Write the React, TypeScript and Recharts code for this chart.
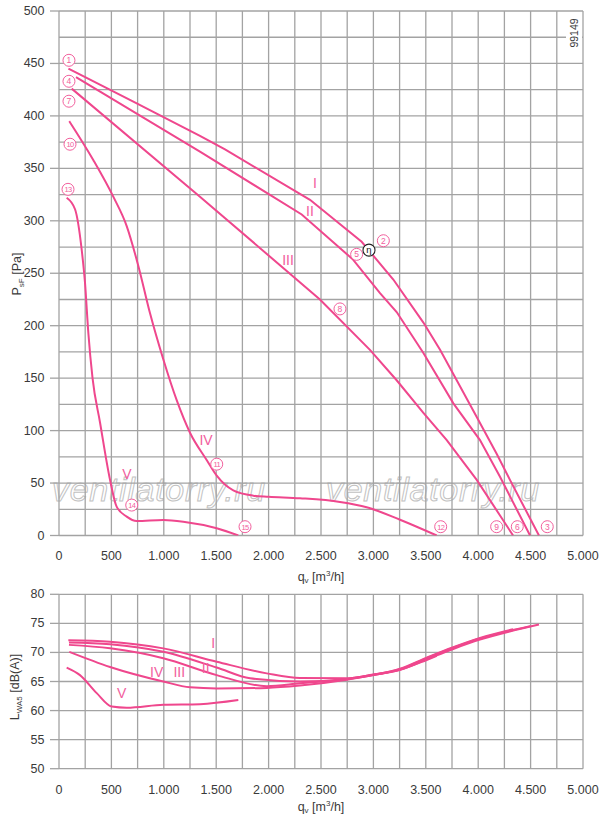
import React from 'react';
import { ComposedChart, Line, Scatter, XAxis, YAxis, CartesianGrid, Label } from 'recharts';

const PINK = '#ef478d';
const LABEL_PINK = '#f2609d';
const GRID = '#a3a3a3';
const TEXT = '#3a3a3a';
const FONT = '"Liberation Sans", Arial, Helvetica, sans-serif';

// ---- axis ticks ----
const flowTicks = [0, 250, 500, 750, 1000, 1250, 1500, 1750, 2000, 2250, 2500, 2750, 3000, 3250, 3500, 3750, 4000, 4250, 4500, 4750, 5000];
const flowLabelTicks = [0, 500, 1000, 1500, 2000, 2500, 3000, 3500, 4000, 4500, 5000];
const pressureTicks = [0, 25, 50, 75, 100, 125, 150, 175, 200, 225, 250, 275, 300, 325, 350, 375, 400, 425, 450, 475, 500];
const pressureLabelTicks = [0, 50, 100, 150, 200, 250, 300, 350, 400, 450, 500];
const soundTicks = [50, 55, 60, 65, 70, 75, 80];

// ---- pressure curves (q [m3/h], p [Pa]) ----
const pressureI = [
  { q: 90, p: 445 }, { q: 700, p: 414 }, { q: 1345, p: 381 }, { q: 1584, p: 368 }, { q: 2395, p: 320 },
  { q: 2888, p: 280 }, { q: 3190, p: 244 }, { q: 3477, p: 203 }, { q: 3636, p: 177 }, { q: 3795, p: 148 },
  { q: 3986, p: 113 }, { q: 4176, p: 78 }, { q: 4303, p: 53 }, { q: 4580, p: 0 },
];
const pressureII = [
  { q: 162, p: 437 }, { q: 1345, p: 366 }, { q: 2316, p: 306 }, { q: 2806, p: 263 }, { q: 3063, p: 231 },
  { q: 3222, p: 213 }, { q: 3477, p: 174 }, { q: 3763, p: 126 }, { q: 4017, p: 91 }, { q: 4208, p: 56 },
  { q: 4495, p: 0 },
];
const pressureIII = [
  { q: 121, p: 426 }, { q: 1345, p: 323 }, { q: 2490, p: 225 }, { q: 2967, p: 177 }, { q: 3222, p: 148 },
  { q: 3477, p: 117 }, { q: 3700, p: 91 }, { q: 3986, p: 53 }, { q: 4333, p: 0 },
];
const pressureIV = [
  { q: 98, p: 395 }, { q: 327, p: 358 }, { q: 518, p: 323 }, { q: 646, p: 295 }, { q: 757, p: 257 },
  { q: 868, p: 212 }, { q: 995, p: 168 }, { q: 1123, p: 129 }, { q: 1250, p: 98 }, { q: 1409, p: 72 },
  { q: 1505, p: 57 }, { q: 1663, p: 43 }, { q: 1854, p: 38 }, { q: 2000, p: 37 }, { q: 2300, p: 35.5 },
  { q: 2681, p: 32 }, { q: 2936, p: 27 }, { q: 3254, p: 15 }, { q: 3604, p: 0 },
];
const pressureV = [
  { q: 73, p: 322 }, { q: 153, p: 311 }, { q: 217, p: 272 }, { q: 248, p: 241 }, { q: 280, p: 193 },
  { q: 320, p: 150 }, { q: 391, p: 108 }, { q: 487, p: 53 }, { q: 550, p: 27.5 }, { q: 646, p: 18 },
  { q: 741, p: 13.8 }, { q: 995, p: 14.8 }, { q: 1186, p: 13.2 }, { q: 1505, p: 6.9 }, { q: 1711, p: 0 },
];

// ---- sound power curves (q [m3/h], L [dB(A)]) ----
const soundI = [
  { q: 89, L: 72.1 }, { q: 487, L: 71.85 }, { q: 995, L: 70.7 }, { q: 1505, L: 68.4 }, { q: 1982, L: 66.4 },
  { q: 2300, L: 65.6 }, { q: 2745, L: 65.55 }, { q: 2999, L: 66.2 }, { q: 3254, L: 67.0 }, { q: 3508, L: 68.8 },
  { q: 3762, L: 70.6 }, { q: 4017, L: 72.2 }, { q: 4300, L: 73.6 }, { q: 4580, L: 74.8 },
];
const soundII = [
  { q: 95, L: 71.7 }, { q: 487, L: 71.4 }, { q: 995, L: 70.1 }, { q: 1505, L: 67.4 }, { q: 1823, L: 65.55 },
  { q: 2300, L: 65.0 }, { q: 2745, L: 65.45 }, { q: 2999, L: 66.15 }, { q: 3254, L: 67.1 }, { q: 3508, L: 69.0 },
  { q: 3762, L: 70.8 }, { q: 4017, L: 72.4 }, { q: 4250, L: 73.5 }, { q: 4495, L: 74.5 },
];
const soundIII = [
  { q: 95, L: 71.3 }, { q: 487, L: 70.7 }, { q: 995, L: 69.0 }, { q: 1505, L: 66.1 }, { q: 1982, L: 64.2 },
  { q: 2300, L: 64.7 }, { q: 2745, L: 65.4 }, { q: 2999, L: 66.1 }, { q: 3254, L: 67.2 }, { q: 3508, L: 69.1 },
  { q: 3762, L: 70.9 }, { q: 4017, L: 72.5 }, { q: 4333, L: 74.0 },
];
const soundIV = [
  { q: 98, L: 70.1 }, { q: 487, L: 67.5 }, { q: 995, L: 65.0 }, { q: 1250, L: 64.0 }, { q: 1505, L: 63.8 },
  { q: 1982, L: 63.9 }, { q: 2300, L: 64.3 }, { q: 2745, L: 65.3 }, { q: 2999, L: 66.1 }, { q: 3254, L: 67.0 },
  { q: 3508, L: 68.7 }, { q: 3604, L: 69.4 },
];
const soundV = [
  { q: 73, L: 67.4 }, { q: 200, L: 66.1 }, { q: 360, L: 63.0 }, { q: 503, L: 60.7 }, { q: 646, L: 60.5 },
  { q: 995, L: 61.0 }, { q: 1345, L: 61.1 }, { q: 1711, L: 61.8 },
];

// ---- curve annotations ----
const pressureRomanLabels = [
  { q: 2443, p: 336, text: 'I' },
  { q: 2395, p: 309, text: 'II' },
  { q: 2185, p: 263, text: 'III' },
  { q: 1403, p: 91, text: 'IV' },
  { q: 649, p: 59, text: 'V' },
];
const pressureCircleLabels = [
  { q: 95, p: 453, n: '1' }, { q: 95, p: 433, n: '4' }, { q: 95, p: 414, n: '7' },
  { q: 105, p: 373, n: '10' }, { q: 86, p: 330, n: '13' },
  { q: 3095, p: 281, n: '2' }, { q: 2840, p: 268, n: '5' }, { q: 2681, p: 216, n: '8' },
  { q: 1505, p: 68, n: '11' }, { q: 694, p: 29, n: '14' }, { q: 1775, p: 8.4, n: '15' },
  { q: 3642, p: 8.4, n: '12' }, { q: 4176, p: 8.4, n: '9' }, { q: 4373, p: 8.4, n: '6' },
  { q: 4659, p: 8.4, n: '3' },
];
const efficiencyLabels = [{ q: 2958, p: 272, n: 'η' }];
const soundRomanLabels = [
  { q: 1472, L: 71.6, text: 'I' },
  { q: 1400, L: 67.3, text: 'II' },
  { q: 1148, L: 66.6, text: 'III' },
  { q: 932, L: 66.7, text: 'IV' },
  { q: 598, L: 63.1, text: 'V' },
];

const fmtFlow = (v: number) =>
  v >= 1000 ? `${Math.floor(v / 1000)}.${String(v % 1000).padStart(3, '0')}` : String(v);

const makeXTick = (dy: number) => (props: any) => {
  const { x, y, payload } = props;
  if (!flowLabelTicks.includes(payload.value)) return <g />;
  return (
    <text x={x} y={y + dy} textAnchor="middle" fontSize={12.5} fill={TEXT} fontFamily={FONT}>
      {fmtFlow(payload.value)}
    </text>
  );
};

const makeYTick = (labels: number[]) => (props: any) => {
  const { x, y, payload } = props;
  if (!labels.includes(payload.value)) return <g />;
  return (
    <g>
      <line x1={x - 9} x2={x} y1={y} y2={y} stroke={GRID} strokeWidth={1.3} />
      <text x={x - 14.5} y={y + 4} textAnchor="end" fontSize={12.5} fill={TEXT} fontFamily={FONT}>
        {payload.value}
      </text>
    </g>
  );
};

const makeXTitle = (dy: number) => (props: any) => {
  const vb = props.viewBox || {};
  const cx = vb.x + vb.width / 2;
  return (
    <text x={cx} y={vb.y + dy} textAnchor="middle" fontSize={12.5} fill={TEXT} fontFamily={FONT}>
      q<tspan fontSize={8} dy={2.5}>v</tspan>
      <tspan dy={-2.5}> [m</tspan>
      <tspan fontSize={8} dy={-4.5}>3</tspan>
      <tspan dy={4.5}>/h]</tspan>
    </text>
  );
};

const makeYTitle = (bx: number, offset: number, main: string, sub: string, rest: string) => (props: any) => {
  const vb = props.viewBox || {};
  const cy = vb.y + vb.height / 2 + offset;
  return (
    <text
      transform={`translate(${bx}, ${cy}) rotate(-90)`}
      textAnchor="middle"
      fontSize={12.5}
      fill={TEXT}
      fontFamily={FONT}
    >
      {main}
      <tspan fontSize={8} dy={3}>{sub}</tspan>
      <tspan dy={-3}>{rest}</tspan>
    </text>
  );
};

const RomanShape = (props: any) => {
  const { cx, cy, payload } = props;
  return (
    <text x={cx} y={cy + 5} textAnchor="middle" fontSize={14} fill={LABEL_PINK} fontFamily={FONT}>
      {payload.text}
    </text>
  );
};

const CircleShape = (props: any) => {
  const { cx, cy, payload } = props;
  const two = payload.n.length > 1;
  return (
    <g>
      <circle cx={cx} cy={cy} r={6} fill="#fff" stroke={LABEL_PINK} strokeWidth={1} />
      <text
        x={cx}
        y={cy + 3}
        textAnchor="middle"
        fontSize={two ? 7.5 : 8.5}
        letterSpacing={two ? -0.7 : 0}
        fill={LABEL_PINK}
        fontFamily={FONT}
      >
        {payload.n}
      </text>
    </g>
  );
};

const EtaShape = (props: any) => {
  const { cx, cy, payload } = props;
  return (
    <g>
      <circle cx={cx} cy={cy} r={6} fill="#fff" stroke="#222" strokeWidth={1.1} />
      <text x={cx} y={cy + 3.2} textAnchor="middle" fontSize={9.5} fill="#111" fontFamily={FONT}>
        {payload.n}
      </text>
    </g>
  );
};

const lineProps = {
  stroke: PINK,
  strokeWidth: 2,
  dot: false,
  activeDot: false,
  isAnimationActive: false,
} as const;

export default function App() {
  return (
    <div
      style={{
        position: 'absolute',
        left: 0,
        top: 0,
        width: 600,
        height: 820,
        background: '#fff',
        fontFamily: FONT,
        overflow: 'hidden',
      }}
    >
      {/* watermark */}
      {[52, 326].map((left) => (
        <div
          key={left}
          style={{
            position: 'absolute',
            left,
            top: 468,
            fontSize: 34,
            fontStyle: 'italic',
            fontFamily: FONT,
            color: 'rgba(255,255,255,0)',
            WebkitTextStroke: '1px #c2c2c2',
            letterSpacing: 0.7,
            whiteSpace: 'nowrap',
            lineHeight: '42px',
          }}
        >
          ventilatorry.ru
        </div>
      ))}

      <div style={{ position: 'absolute', left: 0, top: 0 }}>
        <ComposedChart width={600} height={590} margin={{ top: 11, right: 17, bottom: 0, left: 0 }}>
          <CartesianGrid stroke={GRID} strokeWidth={1.3} />
          <XAxis
            type="number"
            dataKey="q"
            domain={[0, 5000]}
            ticks={flowTicks}
            interval={0}
            tick={makeXTick(24.8)}
            tickLine={false}
            axisLine={false}
            tickSize={0}
            tickMargin={0}
            height={54.5}
            allowDataOverflow
          >
            <Label content={makeXTitle(45.3)} />
          </XAxis>
          <YAxis
            type="number"
            domain={[0, 500]}
            ticks={pressureTicks}
            interval={0}
            tick={makeYTick(pressureLabelTicks)}
            tickLine={false}
            axisLine={false}
            tickSize={0}
            tickMargin={0}
            width={59}
            allowDataOverflow
          >
            <Label content={makeYTitle(21, 0.75, 'P', 'sF', ' [Pa]')} />
          </YAxis>
          <Line data={pressureI} dataKey="p" type="linear" {...lineProps} />
          <Line data={pressureII} dataKey="p" type="linear" {...lineProps} />
          <Line data={pressureIII} dataKey="p" type="linear" {...lineProps} />
          <Line data={pressureIV} dataKey="p" type="monotone" {...lineProps} />
          <Line data={pressureV} dataKey="p" type="monotone" {...lineProps} />
          <Scatter data={pressureRomanLabels} dataKey="p" shape={RomanShape} isAnimationActive={false} />
          <Scatter data={pressureCircleLabels} dataKey="p" shape={CircleShape} isAnimationActive={false} />
          <Scatter data={efficiencyLabels} dataKey="p" shape={EtaShape} isAnimationActive={false} />
        </ComposedChart>
      </div>

      {/* drawing number */}
      <div
        style={{
          position: 'absolute',
          left: 566,
          top: 12,
          width: 16,
          height: 42,
          background: '#fff',
        }}
      >
        <div
          style={{
            position: 'absolute',
            left: 8,
            top: 21,
            transform: 'translate(-50%, -50%) rotate(-90deg)',
            fontSize: 10.5,
            color: TEXT,
            fontFamily: FONT,
            whiteSpace: 'nowrap',
            lineHeight: '12px',
          }}
        >
          99149
        </div>
      </div>

      <div style={{ position: 'absolute', left: 0, top: 578 }}>
        <ComposedChart width={600} height={242} margin={{ top: 16.3, right: 17, bottom: 0, left: 0 }}>
          <CartesianGrid stroke={GRID} strokeWidth={1.3} />
          <XAxis
            type="number"
            dataKey="q"
            domain={[0, 5000]}
            ticks={flowTicks}
            interval={0}
            tick={makeXTick(25.3)}
            tickLine={false}
            axisLine={false}
            tickSize={0}
            tickMargin={0}
            height={51.3}
            allowDataOverflow
          >
            <Label content={makeXTitle(42.1)} />
          </XAxis>
          <YAxis
            type="number"
            domain={[50, 80]}
            ticks={soundTicks}
            interval={0}
            tick={makeYTick(soundTicks)}
            tickLine={false}
            axisLine={false}
            tickSize={0}
            tickMargin={0}
            width={59}
            allowDataOverflow
          >
            <Label content={makeYTitle(18.5, 5.5, 'L', 'WA5', ' [dB(A)]')} />
          </YAxis>
          <Line data={soundI} dataKey="L" type="monotone" {...lineProps} />
          <Line data={soundII} dataKey="L" type="monotone" {...lineProps} />
          <Line data={soundIII} dataKey="L" type="monotone" {...lineProps} />
          <Line data={soundIV} dataKey="L" type="monotone" {...lineProps} />
          <Line data={soundV} dataKey="L" type="monotone" {...lineProps} />
          <Scatter data={soundRomanLabels} dataKey="L" shape={RomanShape} isAnimationActive={false} />
        </ComposedChart>
      </div>
    </div>
  );
}
